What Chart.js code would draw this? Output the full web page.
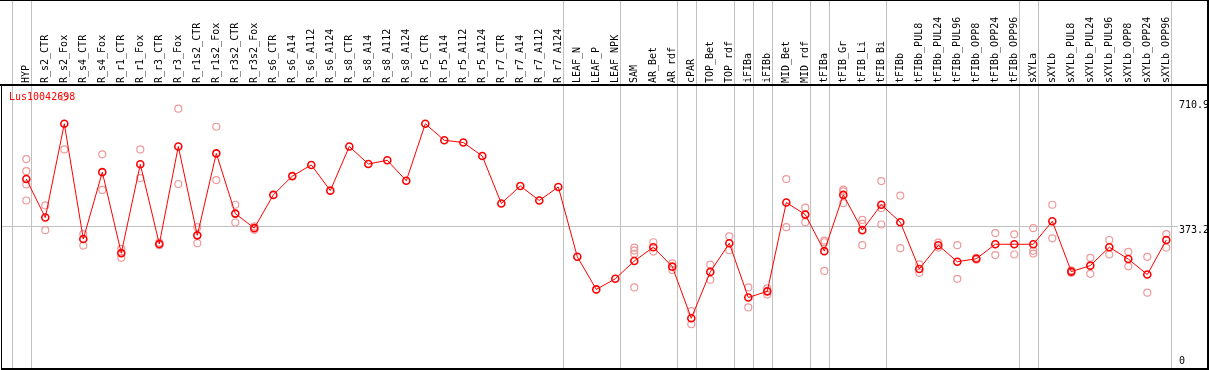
<!DOCTYPE html>
<html>
<head>
<meta charset="utf-8">
<script src="https://cdn.jsdelivr.net/npm/chart.js@4.4.1/dist/chart.umd.min.js"></script>
<style>
  html, body { margin: 0; padding: 0; background: #fff; }
  canvas { display: block; }
</style>
</head>
<body>
<canvas id="expChart" width="1209" height="370"></canvas>
<script>
const geneName = 'Lus10042698';

const samples = [
    'HYP', 'R_s2_CTR', 'R_s2_Fox', 'R_s4_CTR', 'R_s4_Fox', 'R_r1_CTR', 'R_r1_Fox', 'R_r3_CTR', 'R_r3_Fox',
    'R_r1s2_CTR', 'R_r1s2_Fox', 'R_r3s2_CTR', 'R_r3s2_Fox', 'R_s6_CTR', 'R_s6_A14', 'R_s6_A112', 'R_s6_A124',
    'R_s8_CTR', 'R_s8_A14', 'R_s8_A112', 'R_s8_A124', 'R_r5_CTR', 'R_r5_A14', 'R_r5_A112', 'R_r5_A124',
    'R_r7_CTR', 'R_r7_A14', 'R_r7_A112', 'R_r7_A124', 'LEAF_N', 'LEAF_P', 'LEAF_NPK', 'SAM', 'AR_Bet', 'AR_rdf',
    'cPAR', 'TOP_Bet', 'TOP_rdf', 'iFIBa', 'iFIBb', 'MID_Bet', 'MID_rdf', 'tFIBa', 'tFIB_Gr', 'tFIB_Li', 'tFIB_Bi',
    'tFIBb', 'tFIBb_PUL8', 'tFIBb_PUL24', 'tFIBb_PUL96', 'tFIBb_OPP8', 'tFIBb_OPP24', 'tFIBb_OPP96',
    'sXYLa', 'sXYLb', 'sXYLb_PUL8', 'sXYLb_PUL24', 'sXYLb_PUL96', 'sXYLb_OPP8', 'sXYLb_OPP24', 'sXYLb_OPP96'
];

// mean expression per sample
const meanValues = [
    501.5, 397.3, 651.1, 339.3, 520.2, 301.1, 541.5, 325.9, 589.6, 349.2, 570.9, 408.0, 368.7,
    458.7, 509.5, 539.7, 470.2, 589.6, 542.3, 552.2, 496.9, 651.1, 606.5, 600.3, 563.7,
    435.5, 482.8, 443.5, 480.1, 291.2, 203.0, 231.6, 279.7, 317.1, 264.5, 124.8, 250.3, 327.8,
    180.9, 197.7, 438.1, 405.3, 306.4, 458.7, 363.3, 432.0, 384.7, 258.3, 322.5, 277.9, 285.9,
    325.1, 325.1, 325.1, 387.4, 251.1, 267.2, 317.1, 285.1, 243.1, 336.6
];

// individual replicates (sample index -> values)
const replicates = {
    0: [555.7, 522.8, 487.0, 443.5],
    1: [430.1, 363.3],
    2: [723.2, 581.6],
    3: [352.7, 321.4],
    4: [568.3, 472.1],
    5: [312.6, 288.5],
    6: [581.6, 504.1],
    7: [329.4, 322.5],
    8: [691.9, 488.1],
    9: [371.4, 327.8],
    10: [643.1, 498.8],
    11: [432.0, 383.9],
    12: [373.2, 364.1],
    32: [316.1, 308.0, 299.2, 208.4],
    33: [330.5, 305.4],
    34: [273.3, 255.7],
    35: [144.3, 108.7],
    36: [269.8, 229.0],
    37: [346.5, 309.1],
    38: [208.4, 154.2],
    39: [205.7, 188.9],
    40: [501.5, 371.4],
    41: [424.0, 384.7],
    42: [334.8, 330.5, 253.0],
    43: [472.9, 468.3, 436.3],
    44: [390.9, 380.2, 322.5],
    45: [496.1, 422.9, 378.6],
    46: [456.9, 314.5],
    47: [270.6, 247.7],
    48: [329.4, 316.1],
    49: [322.5, 231.6],
    50: [288.5, 283.2],
    51: [355.3, 295.8],
    52: [351.9, 297.4],
    53: [368.7, 307.2, 300.0],
    54: [432.0, 341.2],
    55: [254.6, 247.7],
    56: [288.5, 245.0],
    57: [336.6, 297.4],
    58: [304.6, 265.3],
    59: [291.2, 194.2],
    60: [352.7, 316.1]
};

// sample groups (number of samples in each), a separator is drawn after each group
const groupSizes = [1, 28, 3, 3, 1, 2, 1, 1, 2, 1, 3, 7, 1, 7];

const axisTicks = [710.9, 373.2, 0];
const refLine = 373.2;
const yMax = 756;

const FONT = '10px "DejaVu Sans Mono", monospace';

const repPoints = [];
for (const idx in replicates) {
    replicates[idx].forEach(v => repPoints.push({ x: samples[idx], y: v }));
}

// 배경, 테두리, 구분선, 라벨
const framePlugin = {
    id: 'frame',
    beforeDraw(chart) {
        const { ctx, width, height } = chart;
        ctx.save();
        ctx.fillStyle = '#fff';
        ctx.fillRect(0, 0, width, height);
        ctx.restore();
    },
    beforeDatasetsDraw(chart) {
        const { ctx, scales } = chart;
        const xs = scales.x, ys = scales.y;
        ctx.save();
        ctx.strokeStyle = '#c0c0c0';
        ctx.lineWidth = 1;
        // group separators
        let pos = -1;
        const seps = [pos];
        groupSizes.forEach(n => { pos += n; seps.push(pos); });
        seps.forEach(i => {
            const x = Math.round(xs.getPixelForValue(0) + i * (xs.getPixelForValue(1) - xs.getPixelForValue(0)) + 4.4) + 0.5;
            ctx.beginPath();
            ctx.moveTo(x, 0);
            ctx.lineTo(x, 368);
            ctx.stroke();
        });
        // reference line
        const yr = Math.round(ys.getPixelForValue(refLine)) + 0.5;
        ctx.beginPath();
        ctx.moveTo(2, yr);
        ctx.lineTo(1178, yr);
        ctx.stroke();
        ctx.restore();
    },
    afterDraw(chart) {
        const { ctx, scales } = chart;
        const ys = scales.y;
        ctx.save();
        ctx.fillStyle = '#000';
        ctx.fillRect(0, 0, 1209, 1);
        ctx.fillRect(0, 84, 1209, 2);
        ctx.fillRect(1, 84, 1, 286);
        ctx.fillRect(1, 368, 1208, 2);
        ctx.fillRect(1207, 0, 2, 370);

        ctx.font = FONT;
        ctx.textBaseline = 'middle';
        ctx.textAlign = 'left';
        axisTicks.forEach(v => {
            const y = Math.min(ys.getPixelForValue(v) + 4, 361.5);
            ctx.fillText(String(v), 1179, y);
        });

        ctx.fillStyle = '#ff0000';
        ctx.fillText(geneName, 9, 97);
        ctx.restore();
    }
};

const chart = new Chart(document.getElementById('expChart'), {
    type: 'line',
    data: {
        labels: samples,
        datasets: [
            {
                label: 'mean',
                data: meanValues,
                borderColor: '#ff0000',
                borderWidth: 1,
                pointRadius: 3.5,
                pointBorderWidth: 1.6,
                pointBorderColor: '#ff0000',
                pointBackgroundColor: 'rgba(0,0,0,0)',
                tension: 0,
                fill: false
            },
            {
                type: 'scatter',
                label: 'replicates',
                data: repPoints,
                showLine: false,
                pointRadius: 3.5,
                pointBorderWidth: 1.2,
                pointBorderColor: '#ee9a9a',
                pointBackgroundColor: 'rgba(0,0,0,0)'
            }
        ]
    },
    options: {
        responsive: false,
        animation: false,
        devicePixelRatio: 1,
        layout: { padding: { left: 16.8, right: 33.2, top: 0, bottom: 2 } },
        plugins: {
            legend: { display: false },
            tooltip: { enabled: false }
        },
        scales: {
            x: {
                type: 'category',
                position: 'top',
                offset: true,
                grid: { display: false, drawTicks: false },
                border: { display: false },
                ticks: {
                    autoSkip: false,
                    maxRotation: 90,
                    minRotation: 90,
                    padding: 2,
                    labelOffset: 12,
                    color: '#000',
                    font: { family: '"DejaVu Sans Mono", monospace', size: 10 }
                },
                afterFit(scale) { scale.height = 85; }
            },
            y: {
                display: false,
                min: 0,
                max: yMax
            }
        }
    },
    plugins: [framePlugin]
});
</script>
</body>
</html>
